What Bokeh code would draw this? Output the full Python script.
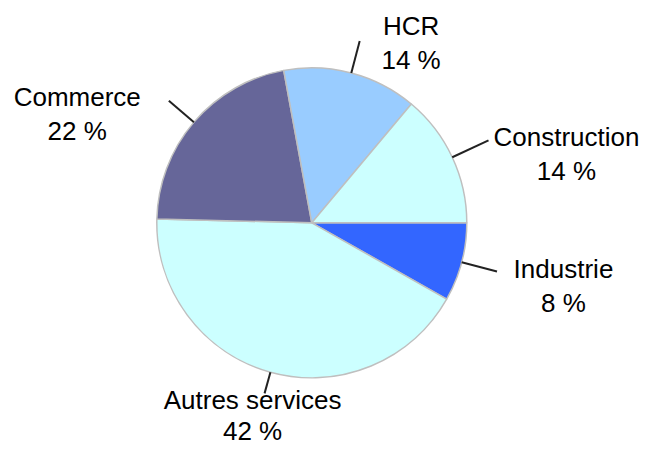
import math
from bokeh.plotting import figure
from bokeh.models import Range1d, ColumnDataSource
from bokeh.embed import file_html
from bokeh.resources import INLINE
from bokeh.core.properties import value

# ---- data ----
categories = ["Industrie", "Autres services", "Commerce", "HCR", "Construction"]
shares = [8.2, 42.2, 21.7, 14.0, 13.9]
pct_labels = ["8 %", "42 %", "22 %", "14 %", "14 %"]
colors = ["#3366FF", "#CCFFFF", "#666699", "#99CCFF", "#CCFFFF"]

# ---- layout (pixels, y measured downward from the top of the canvas) ----
W, H = 641, 448
CX, CY_TOP, R = 311.3, 222.3, 155.0
CY = H - CY_TOP
leads = [36.5, 22.0, 33.0, 33.0, 40.0]
# label nudges relative to leader end (dx right, dy down) and line gaps
nudges = [(66.5, 6.9), (-12.0, 16.1), (-91.6, 5.8), (51.4, -5.5), (78.0, 6.2)]
gaps = [34.0, 31.0, 34.0, 34.0, 34.0]
BASELINE_FIX = 9.5

total = sum(shares)
starts, ends, lx0, ly0, lx1, ly1 = [], [], [], [], [], []
nx, ny, px, py = [], [], [], []
cum = 0.0
for i, s in enumerate(shares):
    a0 = cum / total * 2 * math.pi
    a1 = (cum + s) / total * 2 * math.pi
    starts.append(-a1)
    ends.append(-a0)
    mid = -(a0 + a1) / 2
    c, sn = math.cos(mid), math.sin(mid)
    x0, y0 = CX + R * c, CY + R * sn
    x1, y1 = CX + (R + leads[i]) * c, CY + (R + leads[i]) * sn
    lx0.append(x0); ly0.append(y0); lx1.append(x1); ly1.append(y1)
    dx, dy = nudges[i]
    nx.append(x1 + dx); ny.append(y1 - dy + BASELINE_FIX)
    px.append(x1 + dx); py.append(y1 - dy - gaps[i] + BASELINE_FIX)
    cum += s

src = ColumnDataSource(dict(cat=categories, pct=pct_labels, color=colors,
                            start=starts, end=ends,
                            lx0=lx0, ly0=ly0, lx1=lx1, ly1=ly1,
                            nx=nx, ny=ny, px=px, py=py))

p = figure(width=W, height=H, x_range=Range1d(0, W), y_range=Range1d(0, H),
           output_backend="svg", toolbar_location=None, min_border=0)
p.axis.visible = False
p.grid.visible = False
p.outline_line_color = None
p.background_fill_color = "white"
p.border_fill_color = "white"

p.wedge(x=CX, y=CY, radius=R, start_angle="start", end_angle="end",
        direction="anticlock", fill_color="color", line_color="#BFBFBF",
        line_width=1.5, source=src)

p.segment(x0="lx0", y0="ly0", x1="lx1", y1="ly1", line_color="#222222",
          line_width=2, source=src)

common = dict(text_font=value("Liberation Sans"), text_font_size="26px",
              text_color="black", text_align="center",
              text_baseline="alphabetic", source=src)
p.text(x="nx", y="ny", text="cat", **common)
p.text(x="px", y="py", text="pct", **common)

open("out.html", "w").write(file_html(p, INLINE))
